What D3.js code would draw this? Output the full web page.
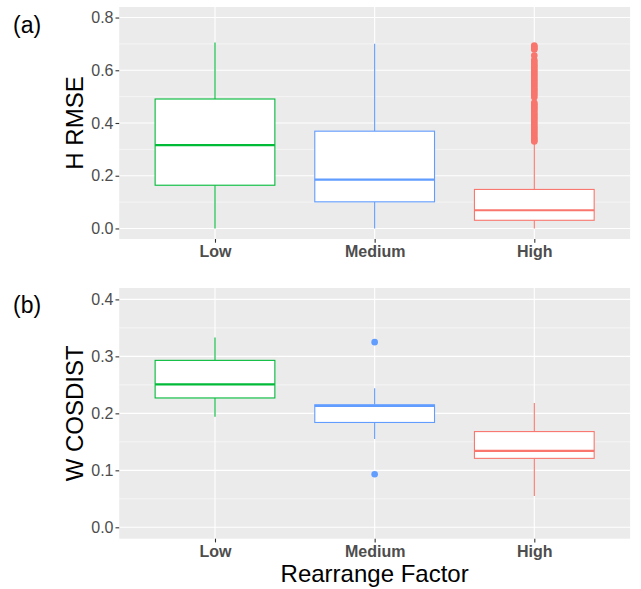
<!DOCTYPE html>
<html>
<head>
<meta charset="utf-8">
<script src="https://cdn.jsdelivr.net/npm/d3@7"></script>
<style>
  body { margin: 0; background: #fff; }
  text { font-family: "Liberation Sans", Arial, Helvetica, sans-serif; }
</style>
</head>
<body>
<div id="chart"></div>
<script>
// categories and colours (ggplot default hues)
const categories = ["Low", "Medium", "High"];
const colors = { Low: "#00BA38", Medium: "#619CFF", High: "#F8766D" };

// panel (a): H RMSE, five-number summaries [whiskerLow, q1, median, q3, whiskerHigh]
const hrmseLow = [0.0, 0.164, 0.316, 0.491, 0.705];
const hrmseMedium = [0.0, 0.101, 0.185, 0.369, 0.701];
const hrmseHigh = [0.0, 0.031, 0.069, 0.148, 0.322];
const hrmseOutliersHigh = [0.694, 0.689, 0.684, 0.679, 0.656,
  0.639, 0.632, 0.625, 0.618, 0.611, 0.604, 0.597, 0.590, 0.583, 0.576, 0.569,
  0.562, 0.555, 0.548, 0.541, 0.534, 0.527, 0.520, 0.513, 0.506, 0.498,
  0.477, 0.471, 0.465, 0.459, 0.453, 0.446, 0.439, 0.432, 0.425, 0.418,
  0.411, 0.404, 0.397, 0.390, 0.383, 0.376, 0.369, 0.362, 0.355, 0.348, 0.341,
  0.335, 0.330];
const hrmseTicks = [0.0, 0.2, 0.4, 0.6, 0.8];

// panel (b): W COSDIST
const wcosLow = [0.194, 0.227, 0.251, 0.293, 0.333];
const wcosMedium = [0.155, 0.184, 0.213, 0.215, 0.244];
const wcosHigh = [0.055, 0.121, 0.134, 0.168, 0.218];
const wcosOutliersMedium = [0.325, 0.093];
const wcosTicks = [0.0, 0.1, 0.2, 0.3, 0.4];

const width = 641, height = 589;
const svg = d3.select("#chart").append("svg")
  .attr("width", width).attr("height", height);

const panelLeft = 119.2, panelRight = 630.1;

const x = d3.scalePoint()
  .domain(categories)
  .range([panelLeft, panelRight])
  .padding(0.6);
const boxW = x.step() * 0.75;

function drawPanel(opts) {
  const y = d3.scaleLinear().domain(opts.domain).range([opts.bottom, opts.top]);
  const g = svg.append("g");

  g.append("rect")
    .attr("x", panelLeft).attr("y", opts.top)
    .attr("width", panelRight - panelLeft).attr("height", opts.bottom - opts.top)
    .attr("fill", "#EBEBEB");

  // minor grid
  const step = opts.ticks[1] - opts.ticks[0];
  const minor = opts.ticks.slice(0, -1).map(t => t + step / 2);
  g.selectAll(".minor").data(minor).enter().append("line")
    .attr("x1", panelLeft).attr("x2", panelRight)
    .attr("y1", d => y(d)).attr("y2", d => y(d))
    .attr("stroke", "#fff").attr("stroke-width", 0.55);
  // major grid
  g.selectAll(".major").data(opts.ticks).enter().append("line")
    .attr("x1", panelLeft).attr("x2", panelRight)
    .attr("y1", d => y(d)).attr("y2", d => y(d))
    .attr("stroke", "#fff").attr("stroke-width", 1.1);
  g.selectAll(".vmajor").data(categories).enter().append("line")
    .attr("x1", d => x(d)).attr("x2", d => x(d))
    .attr("y1", opts.top).attr("y2", opts.bottom)
    .attr("stroke", "#fff").attr("stroke-width", 1.1);

  // y axis
  const yAxis = g.append("g")
    .attr("transform", `translate(${panelLeft},0)`)
    .call(d3.axisLeft(y).tickValues(opts.ticks).tickFormat(d3.format(".1f")).tickSize(3.7).tickPadding(2));
  yAxis.select(".domain").remove();
  yAxis.selectAll(".tick line").attr("stroke", "#333333").attr("stroke-width", 1.1);
  yAxis.selectAll(".tick text").attr("fill", "#4D4D4D").style("font-size", "16px");

  // x axis
  const xAxis = g.append("g")
    .attr("transform", `translate(0,${opts.bottom})`)
    .call(d3.axisBottom(x).tickSize(3.7).tickPadding(3));
  xAxis.select(".domain").remove();
  xAxis.selectAll(".tick line").attr("stroke", "#333333").attr("stroke-width", 1.1);
  xAxis.selectAll(".tick text").attr("fill", "#4D4D4D")
    .style("font-size", "16px").style("font-weight", "bold");

  // boxes
  const boxes = g.selectAll(".box").data(opts.stats).enter().append("g");
  boxes.append("line")
    .attr("x1", d => x(d.cat)).attr("x2", d => x(d.cat))
    .attr("y1", d => y(d.s[3])).attr("y2", d => y(d.s[4]))
    .attr("stroke", d => colors[d.cat]).attr("stroke-width", 1.1);
  boxes.append("line")
    .attr("x1", d => x(d.cat)).attr("x2", d => x(d.cat))
    .attr("y1", d => y(d.s[0])).attr("y2", d => y(d.s[1]))
    .attr("stroke", d => colors[d.cat]).attr("stroke-width", 1.1);
  boxes.append("rect")
    .attr("x", d => x(d.cat) - boxW / 2).attr("width", boxW)
    .attr("y", d => y(d.s[3])).attr("height", d => y(d.s[1]) - y(d.s[3]))
    .attr("fill", "#fff").attr("stroke", d => colors[d.cat]).attr("stroke-width", 1.1);
  boxes.append("line")
    .attr("x1", d => x(d.cat) - boxW / 2).attr("x2", d => x(d.cat) + boxW / 2)
    .attr("y1", d => y(d.s[2])).attr("y2", d => y(d.s[2]))
    .attr("stroke", d => colors[d.cat]).attr("stroke-width", 2.2);

  // outliers
  opts.outliers.forEach(o => {
    g.selectAll(null).data(o.values).enter().append("circle")
      .attr("cx", x(o.cat)).attr("cy", d => y(d)).attr("r", 3.3)
      .attr("fill", colors[o.cat]);
  });

  // y title
  const cy = (opts.top + opts.bottom) / 2;
  g.append("text")
    .attr("transform", `translate(83,${cy}) rotate(-90)`)
    .attr("text-anchor", "middle")
    .style("font-size", "24px").attr("fill", "#000")
    .text(opts.title);

  // panel tag
  g.append("text")
    .attr("x", 13).attr("y", opts.tagY)
    .style("font-size", "23px").attr("fill", "#000")
    .text(opts.tag);
}

drawPanel({
  top: 7, bottom: 239, domain: [-0.04, 0.84], ticks: hrmseTicks,
  stats: [{ cat: "Low", s: hrmseLow }, { cat: "Medium", s: hrmseMedium }, { cat: "High", s: hrmseHigh }],
  outliers: [{ cat: "High", values: hrmseOutliersHigh }],
  title: "H RMSE", tag: "(a)", tagY: 32.5
});

drawPanel({
  top: 288, bottom: 538.7, domain: [-0.02, 0.42], ticks: wcosTicks,
  stats: [{ cat: "Low", s: wcosLow }, { cat: "Medium", s: wcosMedium }, { cat: "High", s: wcosHigh }],
  outliers: [{ cat: "Medium", values: wcosOutliersMedium }],
  title: "W COSDIST", tag: "(b)", tagY: 312.5
});

svg.append("text")
  .attr("x", (panelLeft + panelRight) / 2).attr("y", 582)
  .attr("text-anchor", "middle")
  .style("font-size", "24px").attr("fill", "#000")
  .text("Rearrange Factor");
</script>
</body>
</html>
